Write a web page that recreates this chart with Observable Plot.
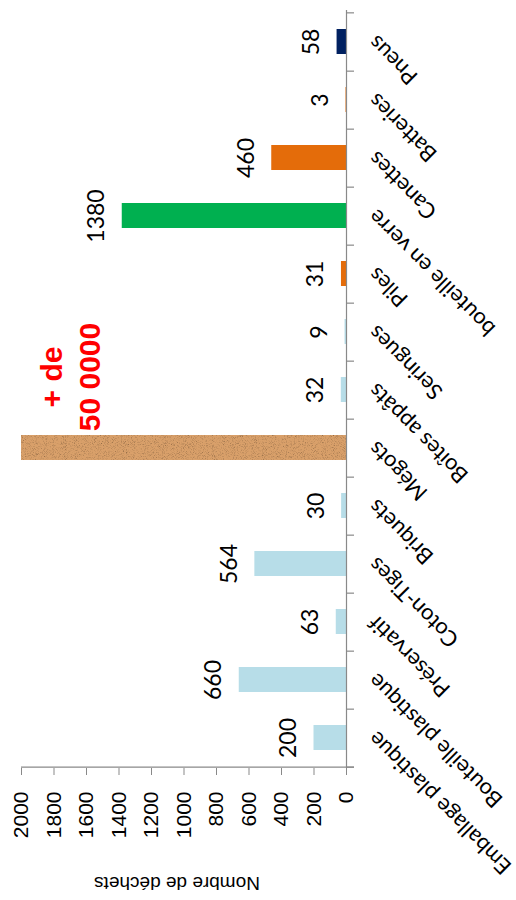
<!DOCTYPE html>
<html>
<head>
<meta charset="utf-8">
<script src="https://cdn.jsdelivr.net/npm/d3@7"></script>
<script src="https://cdn.jsdelivr.net/npm/@observablehq/plot@0.6"></script>
<style>
  html, body { margin: 0; padding: 0; background: #fff; }
  #chart svg { display: block; }
</style>
</head>
<body>
<div id="chart"></div>
<script>
// ---- data ----
const categories = ["Emballage plastique", "Bouteille plastique", "Préservatif", "Coton-Tiges", "Briquets", "Mégots", "Boîtes appâts", "Seringues", "Piles", "bouteille en verre", "Canettes", "Batteries", "Pneus"];
const values = [200, 660, 63, 564, 30, 50000, 32, 9, 31, 1380, 460, 3, 58];
const valueLabels = ["200", "660", "63", "564", "30", "", "32", "9", "31", "1380", "460", "3", "58"];
const barColors = ["#b7dde8", "#b7dde8", "#b7dde8", "#b7dde8", "#b7dde8", "url(#cork)", "#b7dde8", "#b7dde8", "#e46c0a", "#00b050", "#e46c0a", "#e46c0a", "#002060"];
const noteCategory = "Mégots";
const noteText = "+ de\n50 0000";
const xTicks = [0, 200, 400, 600, 800, 1000, 1200, 1400, 1600, 1800, 2000];
const axisTitle = "Nombre de déchets";

const xMax = xTicks[xTicks.length - 1];
const rows = categories.map((c, i) => ({cat: c, value: values[i], label: valueLabels[i], color: barColors[i]}));

const W = 516, H = 900, mTop = 10, mBottom = 132, mLeft = 21, mRight = 170;
const step = (H - mTop - mBottom) / categories.length;
const tickLen = 8 * xMax / (W - mLeft - mRight);

const plot = Plot.plot({
  width: W,
  height: H,
  marginTop: mTop,
  marginBottom: mBottom,
  marginLeft: mLeft,
  marginRight: mRight,
  style: {fontFamily: "Liberation Sans", fontSize: "21px", background: "#fff", overflow: "visible"},
  x: {domain: [0, xMax], reverse: true, axis: null},
  y: {domain: categories.slice().reverse(), paddingInner: 0.57, paddingOuter: 0.285, axis: null},
  color: {type: "identity"},
  marks: [
    Plot.barX(rows, {y: "cat", x: d => Math.min(d.value, xMax), fill: "color"}),
    // category axis line
    Plot.ruleX([0], {stroke: "#898989", strokeWidth: 1.2}),
    // category boundary ticks
    Plot.ruleY(categories, {y: d => d, x1: 0, x2: -tickLen, dy: step / 2, stroke: "#898989", strokeWidth: 1.2}),
    Plot.ruleY(categories.slice(-1), {y: d => d, x1: 0, x2: -tickLen, dy: -step / 2, stroke: "#898989", strokeWidth: 1.2}),
    // value axis line
    Plot.ruleY(categories.slice(0, 1), {y: d => d, x1: xMax, x2: -tickLen, dy: step / 2, stroke: "#898989", strokeWidth: 1.2}),
    Plot.axisX({ticks: xTicks, tickSize: 7, tickPadding: 16, tickRotate: -90, stroke: "#898989", fill: "#000", fontSize: 21, label: null, tickFormat: d => String(d)}),
    Plot.text([axisTitle], {frameAnchor: "bottom", rotate: 180, lineAnchor: "middle", textAnchor: "middle", dy: 115, dx: -7, fontSize: 19, fill: "#000"}),
    // value labels
    Plot.text(rows.filter(d => d.label), {y: "cat", x: d => Math.min(d.value, xMax), text: "label", rotate: -90, dx: -25.5, fontSize: 23, fontFamily: "Lato", fill: "#000"}),
    // note on Mégots
    Plot.text(rows.filter(d => d.cat === noteCategory), {y: "cat", x: d => Math.min(d.value, xMax), text: () => noteText, rotate: -90, dx: 47, dy: -71, fontSize: 30, fontWeight: "bold", lineHeight: 1.27, fill: "#ff0000"}),
    // category labels
    Plot.text(rows, {y: "cat", x: () => 0, text: "cat", rotate: -135, textAnchor: "end", dx: 26, dy: -3, fontSize: 22, fontFamily: "Lato", fill: "#000"})
  ]
});

const defs = d3.select(plot).insert("defs", ":first-child");
defs.html(`
<filter id="corkfx" x="0" y="0" width="100%" height="100%">
  <feTurbulence type="fractalNoise" baseFrequency="1.1" numOctaves="2" seed="7" result="n"/>
  <feColorMatrix in="n" type="matrix" values="0.95 0.95 0 0 0.02  0.95 0.95 0 0 0.02  0.95 0.95 0 0 0.02  0 0 0 0 1" result="g"/>
  <feBlend in="SourceGraphic" in2="g" mode="multiply" result="b"/>
  <feComposite in="b" in2="SourceGraphic" operator="in"/>
</filter>
<pattern id="cork" patternUnits="userSpaceOnUse" width="600" height="100">
  <rect width="600" height="100" fill="#d9a06a" filter="url(#corkfx)"/>
</pattern>`);

document.getElementById("chart").appendChild(plot);
</script>
</body>
</html>
